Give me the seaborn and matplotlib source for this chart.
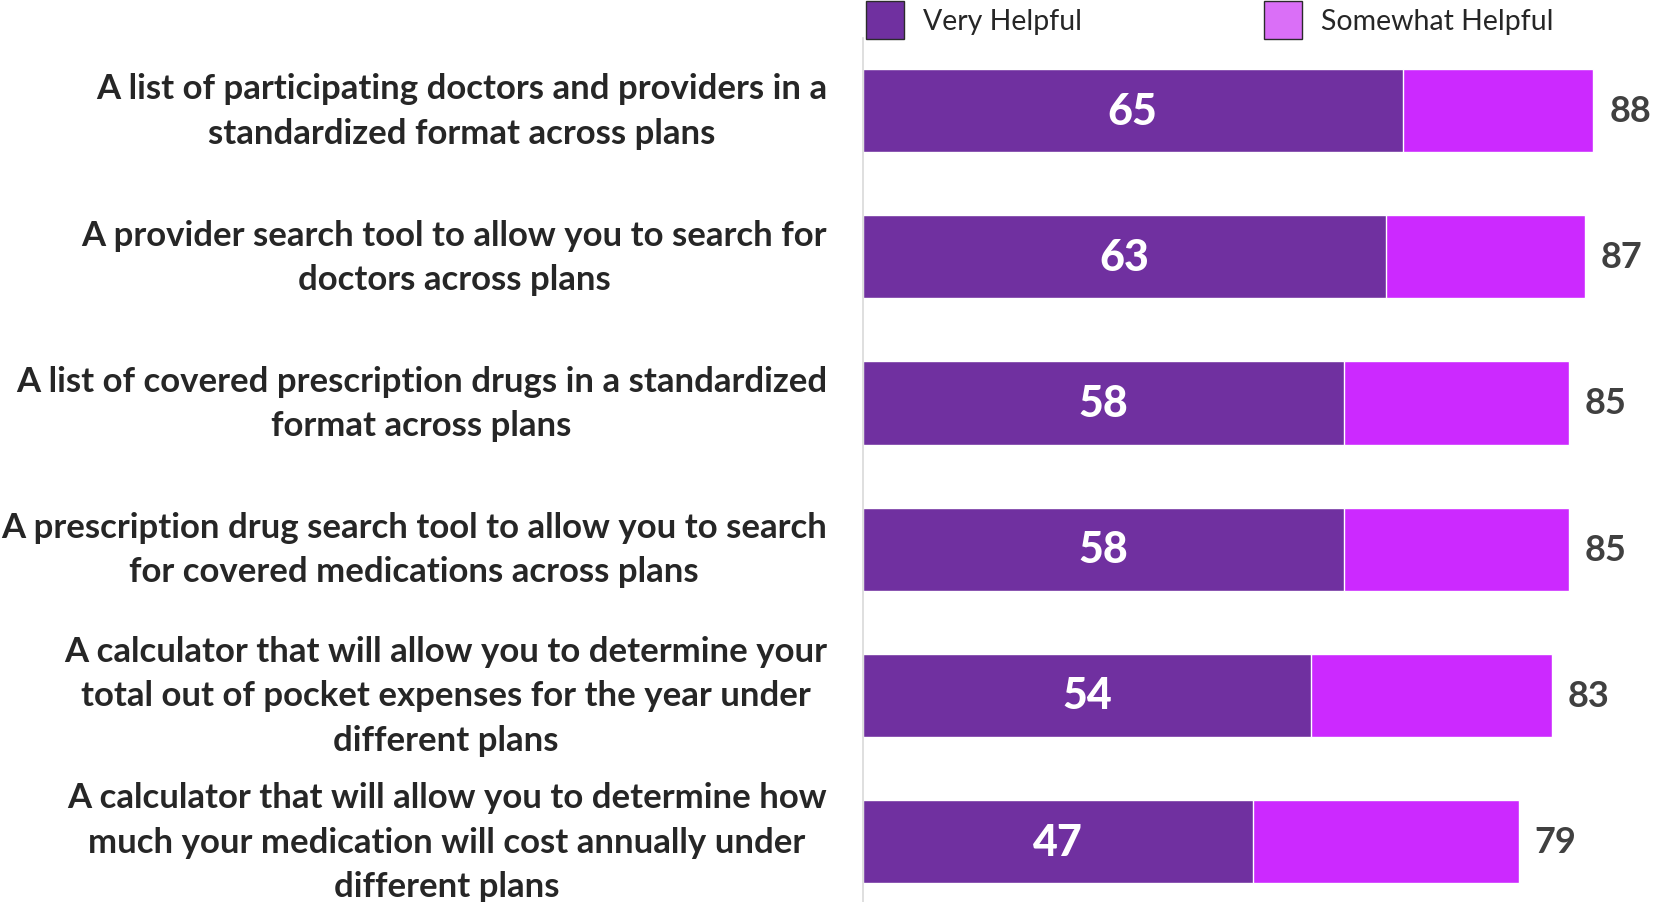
import seaborn as sns
import pandas as pd
from matplotlib import pyplot as plt
from matplotlib.patches import Patch

# survey items (top to bottom)
items = [
    "A list of participating doctors and providers in a\nstandardized format across plans",
    "A provider search tool to allow you to search for\ndoctors across plans",
    "A list of covered prescription drugs in a standardized\nformat across plans",
    "A prescription drug search tool to allow you to search\nfor covered medications across plans",
    "A calculator that will allow you to determine your\ntotal out of pocket expenses for the year under\ndifferent plans",
    "A calculator that will allow you to determine how\nmuch your medication will cost annually under\ndifferent plans",
]
very_helpful = [65, 63, 58, 58, 54, 47]
total_helpful = [88, 87, 85, 85, 83, 79]  # very + somewhat

df = pd.DataFrame({"item": items, "very": very_helpful, "total": total_helpful})

sns.set_style("white")
plt.rcParams["font.family"] = ["Lato", "DejaVu Sans"]

fig = plt.figure(figsize=(16.54, 9.03), dpi=100)
W, H = 1654, 903
ax_left, ax_top = 863, 38.5
ax = fig.add_axes([ax_left / W, 0, 1 - ax_left / W, 1 - ax_top / H])

# total bar first, very helpful drawn on top -> stacked look
sns.barplot(data=df, x="total", y="item", color="#CC29FF", width=0.57,
            saturation=1, orient="h", ax=ax)
sns.barplot(data=df, x="very", y="item", color="#7030A0", width=0.57,
            saturation=1, orient="h", ax=ax)

ax.set_xlim(0, (W - ax_left) / 8.3)
ax.set_ylim(-0.5 + (H - ax_top) / 146.2, -0.5)

# labels
for i, (v, t) in enumerate(zip(very_helpful, total_helpful)):
    ax.text(v / 2, i, str(v), ha="center", va="center", color="white",
            fontsize=31, fontweight="black")
    ax.text(t + 1.9, i, str(t), ha="left", va="center", color="#404040",
            fontsize=26, fontweight="bold")

ax.set_xlabel("")
ax.set_ylabel("")
ax.set_xticks([])
ax.tick_params(axis="y", length=0, pad=26, labelsize=25)
for lbl in ax.get_yticklabels():
    lbl.set_multialignment("center")
    lbl.set_verticalalignment("center")
    lbl.set_fontweight("bold")
    lbl.set_linespacing(1.48)

for s in ["top", "right", "bottom"]:
    ax.spines[s].set_visible(False)
ax.spines["left"].set_color("#D9D9D9")
ax.spines["left"].set_linewidth(1.2)

handles = [
    Patch(facecolor="#7030A0", edgecolor="#2b2b2b", label="Very Helpful"),
    Patch(facecolor="#DA6FF7", edgecolor="#2b2b2b", label="Somewhat Helpful"),
]
fig.legend(handles=handles, loc="upper left", bbox_to_anchor=(866 / W, 1 - 2 / H),
           ncol=2, frameon=False, fontsize=20.5, handlelength=1.33, handleheight=1.7,
           handletextpad=0.67, columnspacing=6.4, borderpad=0, borderaxespad=0)

plt.savefig("out.png", dpi=100)
